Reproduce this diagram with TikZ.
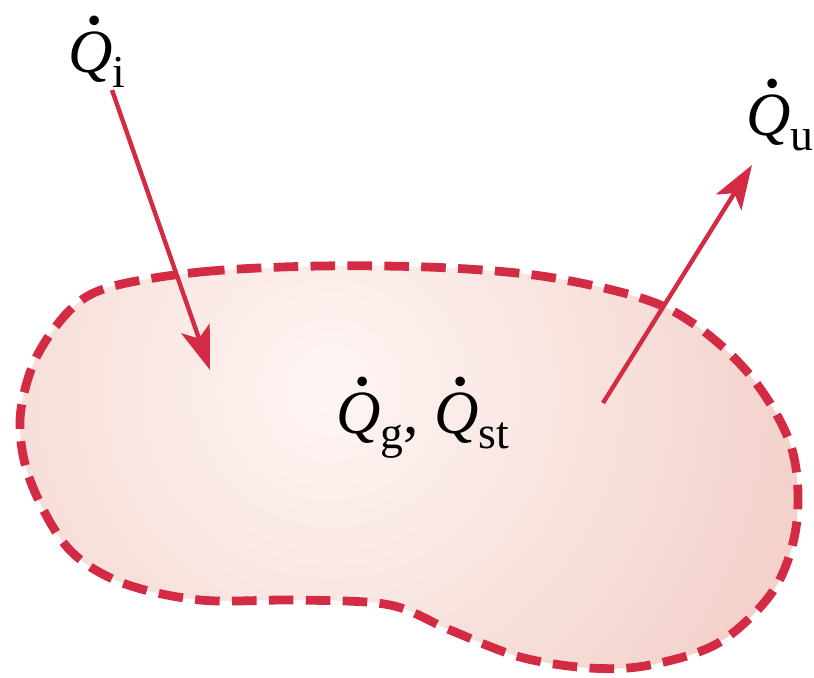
\documentclass[tikz,border=0pt]{standalone}
\usepackage[no-math]{fontspec}
\setmainfont{Liberation Serif}
\usetikzlibrary{arrows.meta}
\definecolor{heatred}{RGB}{212,43,69}
\definecolor{blobin}{RGB}{254,246,244}
\definecolor{blobout}{RGB}{240,196,188}
\newcommand{\Qrate}[1]{{\itshape\rlap{\hspace{0.3em}\smash{\raisebox{0.78em}{\fontsize{46}{46}\selectfont .}}}Q}\raisebox{-0.25em}{\fontsize{26}{30}\selectfont #1}}

\begin{document}
\begin{tikzpicture}[x=0.02cm,y=-0.02cm,
  flux/.style={heatred,line width=2.5pt,-{Stealth[length=25pt,width=17pt,inset=6pt]}},
  boundary/.style={heatred,line width=5pt,dash pattern=on 14pt off 7pt},
  lbl/.style={font=\fontsize{35}{40}\selectfont,inner sep=0pt,anchor=base west}]
\useasboundingbox (0,0) rectangle (814,677);
\def\blob{plot[smooth cycle,tension=0.55] coordinates {(110,287) (200,272) (320,266) (450,268) (560,279) (667,308) (743,367) (790,443) (797,520) (775,588) (720,642) (650,665) (590,668) (520,657) (450,630) (390,605) (300,600) (200,600) (120,582) (67,547) (30,480) (20,420) (35,360) (70,310)}}
% system with shaded interior
\begin{scope}
\clip \blob;
\shade[inner color=blobin,outer color=blobout] (330,390) circle (13cm);
\end{scope}
\draw[boundary] \blob;
% labels
\node[lbl] (qi) at (68,72) {\Qrate{i}};
\node[lbl] (qu) at (746,135) {\Qrate{u}};
\node[lbl] (qgst) at (336,433) {\Qrate{g}, \Qrate{st}};
% heat flows
\coordinate (qi-from) at (112,90);
\coordinate (qi-to) at (210,370);
\coordinate (qu-from) at (603,403);
\coordinate (qu-to) at (752,165);
\draw[flux] (qi-from) -- (qi-to);
\draw[flux] (qu-from) -- (qu-to);
\end{tikzpicture}
\end{document}
